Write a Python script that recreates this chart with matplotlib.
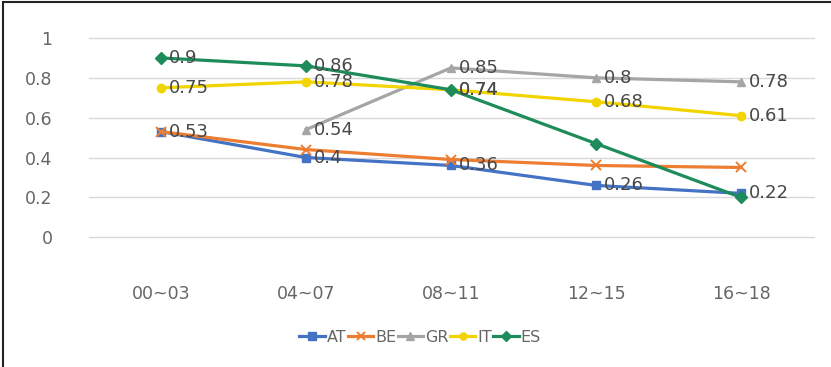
import numpy as np
import matplotlib.pyplot as plt
from matplotlib.patches import Rectangle

# ─── Data ───────────────────────────────────────────────────────────────────────

periods = ["00~03", "04~07", "08~11", "12~15", "16~18"]

at_vals = [0.53, 0.40, 0.36, 0.26, 0.22]
be_vals = [0.53, 0.44, 0.39, 0.36, 0.35]
gr_vals = [np.nan, 0.54, 0.85, 0.80, 0.78]
it_vals = [0.75, 0.78, 0.74, 0.68, 0.61]
es_vals = [0.90, 0.86, 0.74, 0.47, 0.20]

# which points carry a value label, per series
at_labels = [True, True, True, True, True]
be_labels = [False, False, False, False, False]
gr_labels = [False, True, True, True, True]
it_labels = [True, True, True, True, True]
es_labels = [True, True, True, False, False]

series = [
    ("AT", at_vals, at_labels, "#4472C4", "s"),
    ("BE", be_vals, be_labels, "#ED7D31", "x"),
    ("GR", gr_vals, gr_labels, "#A5A5A5", "^"),
    ("IT", it_vals, it_labels, "#F2D500", "o"),
    ("ES", es_vals, es_labels, "#1E8B5A", "D"),
]

TEXT = "#666666"

# ─── Plot ───────────────────────────────────────────────────────────────────────

fig = plt.figure(figsize=(8.31, 3.67), dpi=100)
ax = fig.add_axes([88.5 / 831, 1 - 238 / 367, 725 / 831, 200 / 367])

x = np.arange(len(periods))
for name, vals, show, color, marker in series:
    ms = 6 if marker != "x" else 7
    ax.plot(x, vals, color=color, lw=2.3, marker=marker, ms=ms,
            mew=1.4 if marker == "x" else 1, label=name, zorder=3)
    for xi, v, s in zip(x, vals, show):
        if s and not np.isnan(v):
            ax.annotate(f"{v:g}", (xi, v), xytext=(6, 0), textcoords="offset points",
                        ha="left", va="center", fontsize=13, color="#484848", zorder=4)

ax.set_xlim(-0.5, len(periods) - 0.5)
ax.set_ylim(-0.004, 1.0)
ax.set_yticks([0, 0.2, 0.4, 0.6, 0.8, 1.0])
ax.set_yticklabels(["0", "0.2", "0.4", "0.6", "0.8", "1"])
ax.set_xticks(x)
ax.set_xticklabels(periods)
ax.tick_params(axis="both", length=0, labelsize=12.5, labelcolor=TEXT)
ax.tick_params(axis="y", pad=26)
ax.tick_params(axis="x", pad=34)
ax.grid(axis="y", color="#D9D9D9", lw=1)
for gl in ax.get_ygridlines():
    gl.set_clip_on(False)
ax.set_axisbelow(True)
for sp in ax.spines.values():
    sp.set_visible(False)

leg = fig.legend(loc="center", bbox_to_anchor=(420 / 831, 1 - 337 / 367), ncol=5,
                 frameon=False, fontsize=11.5, handlelength=1.6, handletextpad=0.1,
                 columnspacing=0.1, markerscale=0.85)
for t in leg.get_texts():
    t.set_color(TEXT)

# frame round the whole chart
fig.patches.append(Rectangle((3 / 831, -0.01), 1.0, 1 - 1.5 / 367 + 0.01,
                             transform=fig.transFigure, fill=False,
                             edgecolor="#222222", lw=1.5))

fig.savefig("out.png", dpi=100)
